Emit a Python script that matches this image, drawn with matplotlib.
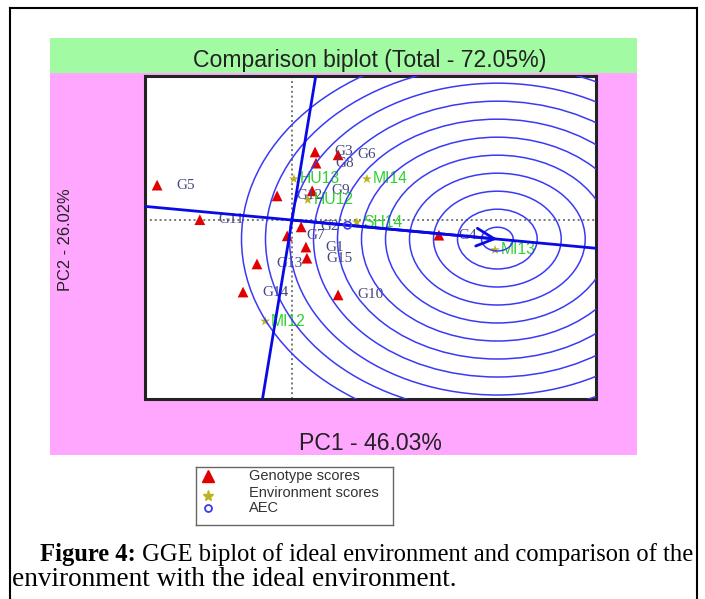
import numpy as np
import matplotlib
matplotlib.use("Agg")
import matplotlib.pyplot as plt
from matplotlib.patches import Rectangle, Circle
from matplotlib.lines import Line2D

# ---------------- data ----------------
genotypes = ["G1", "G2", "G3", "G4", "G5", "G6", "G7", "G8", "G9", "G10",
             "G11", "G12", "G13", "G14", "G15"]
gen_pc1 = [0.29, 0.19, 0.48, 3.06, -2.81, 0.96, -0.10, 0.50, 0.42, 0.96,
           -1.92, -0.31, -0.73, -1.02, 0.31]
gen_pc2 = [-0.75, -0.19, 1.89, -0.42, 0.97, 1.81, -0.44, 1.58, 0.81, -2.08,
           0.01, 0.67, -1.22, -2.00, -1.06]

environments = ["HU13", "MI14", "HU12", "SH14", "MI13", "MI12"]
env_pc1 = [0.04, 1.56, 0.33, 1.35, 4.23, -0.56]
env_pc2 = [1.14, 1.14, 0.56, -0.06, -0.83, -2.81]

title = "Comparison biplot (Total - 72.05%)"
xlabel = "PC1 - 46.03%"
ylabel = "PC2 - 26.02%"
legend_labels = ["Genotype scores", "Environment scores", "AEC"]
caption_bold = "Figure 4:"
caption_rest = " GGE biplot of ideal environment and comparison of the"
caption_line2 = "environment with the ideal environment."

circle_first = 0.33
circle_step = 0.5
n_circles = 11

# ---------------- derived (AEC / ideal environment) ----------------
ex = np.array(env_pc1)
ey = np.array(env_pc2)
avg = np.array([ex.mean(), ey.mean()])
u = avg / np.linalg.norm(avg)
ideal = u * np.max(np.hypot(ex, ey))
perp = np.array([-u[1], u[0]])

# ---------------- figure ----------------
W, H = 705, 599
fig = plt.figure(figsize=(W / 100, H / 100), dpi=100)
fig.patch.set_facecolor("white")


def fx(px):
    return px / W


def fy(py):
    return 1 - py / H


# outer frame (open at bottom)
for xs, ys in [((10, 10), (8, 599)), ((10, 697), (8, 8)), ((697, 697), (8, 599))]:
    fig.add_artist(Line2D([fx(x) for x in xs], [fy(y) for y in ys],
                          color="black", lw=1.5, transform=fig.transFigure))

# background panels
fig.add_artist(Rectangle((fx(50), fy(455)), fx(637) - fx(50), fy(73) - fy(455),
                         facecolor="#FFA6FF", edgecolor="none",
                         transform=fig.transFigure, zorder=0))
fig.add_artist(Rectangle((fx(50), fy(73)), fx(637) - fx(50), fy(38) - fy(73),
                         facecolor="#A2FBA2", edgecolor="none",
                         transform=fig.transFigure, zorder=0))

fig.text(fx(370), fy(60), title, ha="center", va="center",
         fontsize=16.6, family="Liberation Sans", color="#222222")
fig.text(fx(370), fy(443), xlabel, ha="center", va="center",
         fontsize=16.6, family="Liberation Sans", color="#222222")
fig.text(fx(65), fy(240), ylabel, ha="center", va="center", rotation=90,
         fontsize=11.8, family="Liberation Sans", color="#222222")

# ---------------- biplot axes ----------------
ax = fig.add_axes([fx(145), fy(399), fx(596) - fx(145), fy(76) - fy(399)])
ax.set_facecolor("white")
ax.set_xlim(-3.0625, 6.333)
ax.set_ylim(-4.97, 4.0)
ax.set_xticks([])
ax.set_yticks([])
for s in ax.spines.values():
    s.set_linewidth(2.2)
    s.set_color("#222222")

ax.axhline(0, color="#777777", lw=1.4, ls=(0, (1, 1.5)), zorder=1)
ax.axvline(0, color="#777777", lw=1.4, ls=(0, (1, 1.5)), zorder=1)

ax.scatter(gen_pc1, gen_pc2, marker="^", s=60, color="#E00000",
           edgecolors="none", zorder=2)
for name, x, y in zip(genotypes, gen_pc1, gen_pc2):
    ax.annotate(name, (x, y), xytext=(19, 0), textcoords="offset pixels",
                ha="left", va="center", fontsize=11, family="Liberation Serif",
                color="#45457F", zorder=2.5)

ax.scatter(env_pc1, env_pc2, marker="*", s=55, color="#B8B520",
           edgecolors="none", zorder=2)
for name, x, y in zip(environments, env_pc1, env_pc2):
    ax.annotate(name, (x, y), xytext=(6, 0), textcoords="offset pixels",
                ha="left", va="center", fontsize=11.3, family="Liberation Sans",
                color="#2FD12F", zorder=2.5)

# concentric circles around ideal environment
for k in range(n_circles):
    ax.add_patch(Circle((ideal[0], ideal[1]), circle_first + circle_step * k,
                        fill=False, edgecolor="#3A3AF5", lw=1.1, zorder=3))

# AEC abscissa and ordinate
ax.axline((0, 0), tuple(u), color="#0A0AE6", lw=2.0, zorder=3.5)
ax.axline((0, 0), tuple(perp), color="#0A0AE6", lw=2.0, zorder=3.5)
ax.annotate("", xy=tuple(ideal), xytext=(0, 0),
            arrowprops=dict(arrowstyle="->", color="#0A0AE6", lw=2.0,
                            mutation_scale=32, shrinkA=0, shrinkB=0),
            zorder=3.6)
ax.scatter([avg[0]], [avg[1]], s=28, facecolors="none", edgecolors="#3A3AF5",
           lw=1.2, zorder=3.6)

# ---------------- legend ----------------
lax = fig.add_axes([fx(196), fy(525), fx(393) - fx(196), fy(467) - fy(525)])
lax.set_xlim(0, 197)
lax.set_ylim(58, 0)
lax.set_xticks([])
lax.set_yticks([])
for s in lax.spines.values():
    s.set_linewidth(1.0)
    s.set_color("#666666")
leg_rows = [9, 26, 41]
lax.plot([12], [leg_rows[0]], marker="^", ms=8, color="#E00000", ls="none")
lax.plot([12], [leg_rows[1] + 3], marker="*", ms=8, color="#B8B520", ls="none")
lax.plot([12], [leg_rows[2]], marker="o", ms=5, mfc="none", mec="#3A3AF5",
         mew=1.3, ls="none")
for lab, yy in zip(legend_labels, leg_rows):
    lax.text(53, yy, lab, ha="left", va="center", fontsize=10.5,
             family="Liberation Sans", color="#333333")

# ---------------- caption ----------------
t1 = fig.text(fx(40), fy(566), caption_bold, ha="left", va="bottom",
              fontsize=17.7, family="Liberation Serif", weight="bold")
ax.annotate(caption_rest, xy=(1, 0), xycoords=t1, ha="left", va="bottom",
            fontsize=17.7, family="Liberation Serif", annotation_clip=False)
fig.text(fx(12), fy(592), caption_line2, ha="left", va="bottom",
         fontsize=19.6, family="Liberation Serif")

fig.savefig("out.png", dpi=100)
